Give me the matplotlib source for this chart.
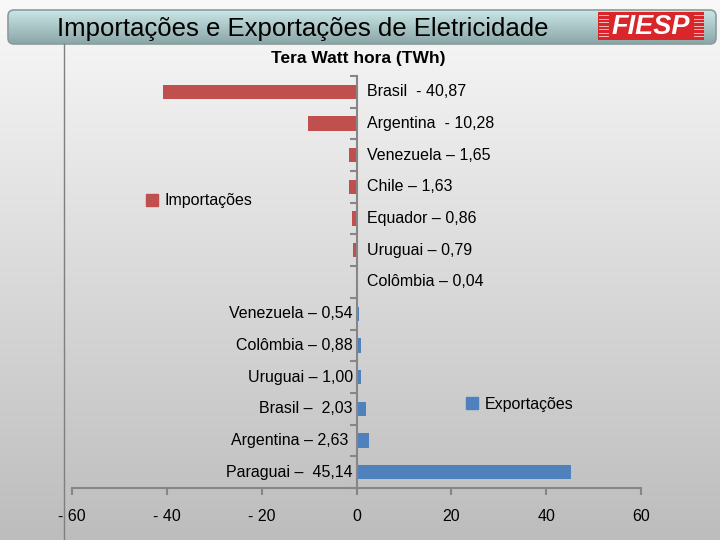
import numpy as np
import matplotlib
matplotlib.use('Agg')
import matplotlib.pyplot as plt
from matplotlib.patches import FancyBboxPatch, Rectangle, Patch
from matplotlib.ticker import FuncFormatter

plt.rcParams['font.family'] = ['Liberation Sans', 'DejaVu Sans']

# Importações (negativas) e Exportações (positivas), em TWh
imp_labels = ["Brasil  - 40,87", "Argentina  - 10,28", "Venezuela – 1,65", "Chile – 1,63",
              "Equador – 0,86", "Uruguai – 0,79", "Colômbia – 0,04"]
imp_values = [-40.87, -10.28, -1.65, -1.63, -0.86, -0.79, -0.04]
exp_labels = ["Venezuela – 0,54", "Colômbia – 0,88", "Uruguai – 1,00", "Brasil –  2,03",
              "Argentina – 2,63 ", "Paraguai –  45,14"]
exp_values = [0.54, 0.88, 1.00, 2.03, 2.63, 45.14]
x_ticks = [-60, -40, -20, 0, 20, 40, 60]

red = '#c0504d'
blue = '#4f81bd'
axis_grey = '#868686'

fig = plt.figure(figsize=(7.2, 5.4), dpi=100)

# background in pixel coordinates
bg = fig.add_axes([0, 0, 1, 1], zorder=-1)
bg.set_xlim(0, 720)
bg.set_ylim(540, 0)
bg.axis('off')
grad = np.linspace(0, 1, 256)[:, None]
top = np.array([0.975, 0.975, 0.975])
bot = np.array([0.74, 0.74, 0.74])
img = top + (bot - top) * grad[:, :, None]
bg.imshow(img, extent=[0, 720, 540, 0], aspect='auto')
bg.plot([64, 64], [44, 540], color='#7f7f7f', lw=1)

# header bar
hdr = FancyBboxPatch((8, 10), 708, 34, boxstyle='round,pad=0,rounding_size=6',
                     facecolor='none', edgecolor='#8c9c9c', lw=1.2)
bg.add_patch(hdr)
hg = np.linspace(0, 1, 64)[:, None]
htop = np.array([0.79, 0.90, 0.90])
hbot = np.array([0.54, 0.65, 0.65])
himg = htop + (hbot - htop) * hg[:, :, None]
him = bg.imshow(himg, extent=[8, 716, 44, 10], aspect='auto')
him.set_clip_path(hdr)
bg.set_xlim(0, 720)
bg.set_ylim(540, 0)
bg.text(303, 29, "Importações e Exportações de Eletricidade", fontsize=18.5,
        ha='center', va='center', color='black')

# FIESP logo
bg.add_patch(Rectangle((598, 12), 106, 28, facecolor='#d9262b', edgecolor='none'))
for yy in np.arange(15, 39, 3.5):
    bg.plot([599, 608], [yy, yy], color='white', lw=0.6, alpha=0.8)
    bg.plot([694, 703], [yy, yy], color='white', lw=0.6, alpha=0.8)
bg.text(651, 27, "FIESP", fontsize=19.5, fontweight='bold', fontstyle='italic',
        color='white', ha='center', va='center')

bg.text(358, 58, "Tera Watt hora (TWh)", fontsize=12.5, fontweight='bold',
        ha='center', va='center')

# main chart
ax = fig.add_axes([72 / 720, 1 - 488 / 540, 569 / 720, 412 / 540])
ax.set_facecolor('none')
n_imp = len(imp_values)
y_imp = np.arange(n_imp)
y_exp = np.arange(n_imp, n_imp + len(exp_values))
b_imp = ax.barh(y_imp, imp_values, height=0.45, color=red)
b_exp = ax.barh(y_exp, exp_values, height=0.45, color=blue)

for y, lab in zip(y_imp, imp_labels):
    ax.text(2.3, y, lab, ha='left', va='center', fontsize=11.5)
for y, lab in zip(y_exp, exp_labels):
    ax.text(-0.8, y, lab, ha='right', va='center', fontsize=11.5)

n = n_imp + len(exp_values)
ax.set_ylim(n - 0.5, -0.5)
ax.set_xlim(-60, 60)
ax.set_yticks(np.arange(-0.5, n, 1))
ax.set_yticklabels([])
ax.tick_params(axis='y', direction='out', length=5, color=axis_grey, width=1.5)
ax.set_xticks(x_ticks)
ax.xaxis.set_major_formatter(FuncFormatter(lambda v, p: f"- {abs(int(v))}" if v < 0 else f"{int(v)}"))
ax.tick_params(axis='x', direction='out', length=5, color=axis_grey, width=1.5,
               labelsize=11.5, pad=10)
ax.spines['left'].set_position(('data', 0))
ax.spines['left'].set_color(axis_grey)
ax.spines['left'].set_linewidth(1.5)
ax.spines['bottom'].set_color(axis_grey)
ax.spines['bottom'].set_linewidth(1.5)
ax.spines['top'].set_visible(False)
ax.spines['right'].set_visible(False)

leg1 = ax.legend(handles=[Patch(color=red, label='Importações')], loc='center left',
                 bbox_to_anchor=(146 / 720, 1 - 201 / 540), bbox_transform=fig.transFigure,
                 frameon=False, fontsize=11.5, handlelength=0.75, handleheight=0.75,
                 handletextpad=0.4, borderpad=0, borderaxespad=0)
ax.add_artist(leg1)
ax.legend(handles=[Patch(color=blue, label='Exportações')], loc='center left',
          bbox_to_anchor=(466 / 720, 1 - 404 / 540), bbox_transform=fig.transFigure,
          frameon=False, fontsize=11.5, handlelength=0.75, handleheight=0.75,
          handletextpad=0.4, borderpad=0, borderaxespad=0)

fig.savefig('out.png', dpi=100)
